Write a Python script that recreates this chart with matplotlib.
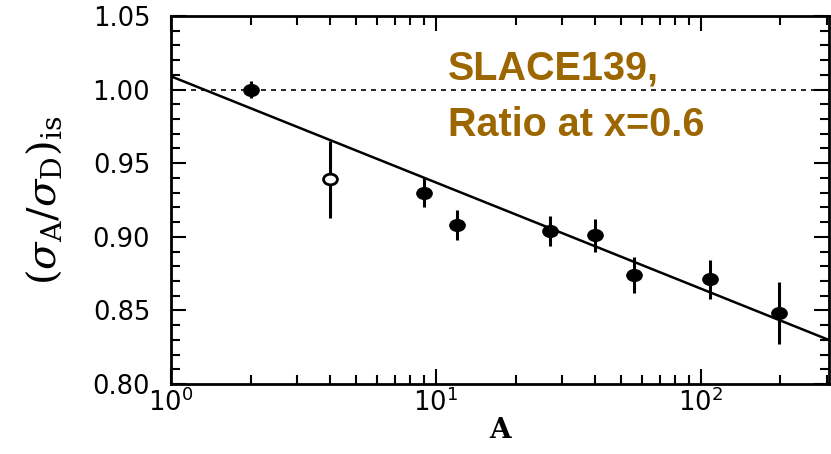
import numpy as np
import matplotlib
matplotlib.use('Agg')
import matplotlib.pyplot as plt
from matplotlib.path import Path
from matplotlib.transforms import Affine2D
from matplotlib.ticker import LogLocator, NullFormatter, MultipleLocator

# SLAC E139 isoscalar cross-section ratios at x = 0.6
A_vals = [2, 4, 9, 12, 27, 40, 56, 108, 197]
ratio = [1.000, 0.939, 0.930, 0.908, 0.904, 0.901, 0.874, 0.871, 0.848]
ratio_err = [0.006, 0.026, 0.010, 0.010, 0.010, 0.011, 0.012, 0.013, 0.021]
is_open = [False, True, False, False, False, False, False, False, False]

# straight-line fit in log10(A)
fit_c0 = 1.009
fit_slope = -0.0721

plt.rcParams['mathtext.fontset'] = 'dejavuserif'

fig = plt.figure(figsize=(8.31, 4.54), dpi=100)
ax = fig.add_axes([0.2058, 0.1542, 0.7918, 0.8106])

# slightly wide ellipse as marker
ellipse = Path.unit_circle().transformed(Affine2D().scale(1.3, 1.0))

A_arr = np.array(A_vals)
r_arr = np.array(ratio)
e_arr = np.array(ratio_err)
op = np.array(is_open)

ax.errorbar(A_arr[~op], r_arr[~op], yerr=e_arr[~op], fmt='none',
            ecolor='black', elinewidth=2.2, capsize=0, zorder=3)
ax.plot(A_arr[~op], r_arr[~op], linestyle='none', marker=ellipse,
        ms=11, color='black', zorder=4)
ax.errorbar(A_arr[op], r_arr[op], yerr=e_arr[op], fmt='none',
            ecolor='black', elinewidth=2.2, capsize=0, zorder=3)
ax.plot(A_arr[op], r_arr[op], linestyle='none', marker=ellipse,
        ms=10, mfc='white', mec='black', mew=2, zorder=4)

xfit = np.logspace(0, np.log10(305), 100)
ax.plot(xfit, fit_c0 + fit_slope * np.log10(xfit), color='black', lw=1.8, zorder=2)
ax.axhline(1.0, color='black', lw=1.2, linestyle=(0, (3, 3)), zorder=1)

ax.set_xscale('log')
ax.set_xlim(1, 305)
ax.set_ylim(0.80, 1.05)
ax.yaxis.set_major_locator(MultipleLocator(0.05))
ax.yaxis.set_minor_locator(MultipleLocator(0.01))
ax.xaxis.set_major_locator(LogLocator(base=10))
ax.xaxis.set_minor_locator(LogLocator(base=10, subs=np.arange(2, 10)))
ax.xaxis.set_minor_formatter(NullFormatter())
ax.yaxis.set_major_formatter(matplotlib.ticker.FormatStrFormatter('%.2f'))

for s in ax.spines.values():
    s.set_linewidth(2)
ax.tick_params(which='both', direction='in', top=True, right=True, width=1.5)
ax.tick_params(which='major', length=11)
ax.tick_params(which='minor', length=6.5)
ax.tick_params(axis='y', which='major', pad=15, labelsize=18.5)
ax.tick_params(axis='x', which='major', pad=3, labelsize=18.5)

ax.set_xlabel('A', family='DejaVu Serif', weight='bold', fontsize=20, labelpad=0)
ax.set_ylabel(r'$(\sigma_{\rm A}/\sigma_{\rm D})_{\rm is}$', fontsize=29, labelpad=20)

gold = '#9c6600'
fig.text(0.539, 0.8238, 'SLACE139,', family='Liberation Sans', weight='bold',
         fontsize=28.5, color=gold, va='baseline')
fig.text(0.539, 0.7004, 'Ratio at x=0.6', family='Liberation Sans', weight='bold',
         fontsize=28.5, color=gold, va='baseline')

fig.savefig('out.png', dpi=100)
